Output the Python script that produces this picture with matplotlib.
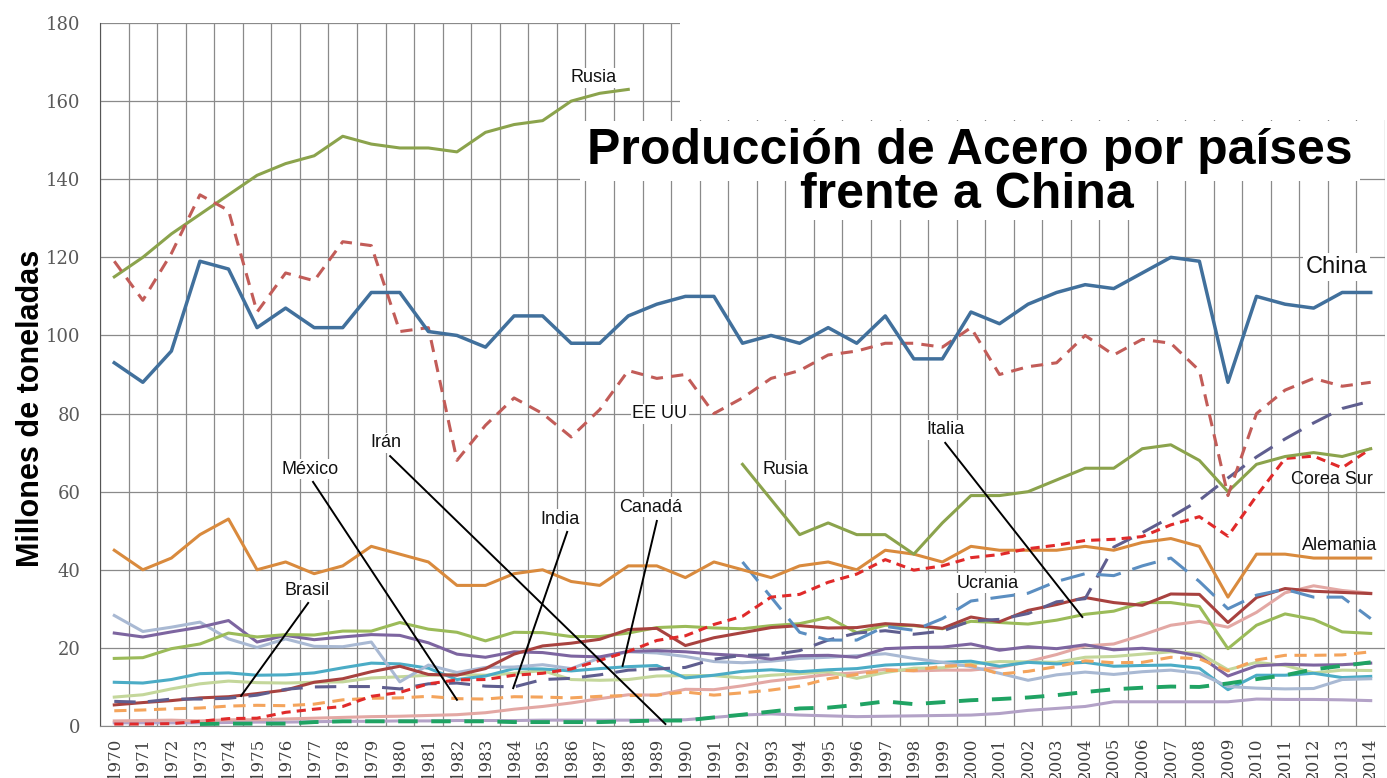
import matplotlib.pyplot as plt
import numpy as np
from matplotlib.patches import Rectangle

# datos (millones de toneladas), 1970-2014
years = list(range(1970, 2015))
nan = np.nan

china = [93, 88, 96, 119, 117, 102, 107, 102, 102, 111, 111, 101, 100, 97, 105, 105, 98, 98, 105, 108,
         110, 110, 98, 100, 98, 102, 98, 105, 94, 94, 106, 103, 108, 111, 113, 112, 116, 120, 119, 88,
         110, 108, 107, 111, 111]
ee_uu = [119, 109, 121, 136, 132, 106, 116, 114, 124, 123, 101, 102, 68, 77, 84, 80, 74, 81, 91, 89,
         90, 80, 84, 89, 91, 95, 96, 98, 98, 97, 102, 90, 92, 93, 100, 95, 99, 98, 91, 59,
         80, 86, 89, 87, 88]
rusia = [115, 120, 126, 131, 136, 141, 144, 146, 151, 149, 148, 148, 147, 152, 154, 155, 160, 162, 163, nan,
         nan, nan, 67, 58, 49, 52, 49, 49, 44, 52, 59, 59, 60, 63, 66, 66, 71, 72, 68, 60,
         67, 69, 70, 69, 71]
ucrania = [nan] * 22 + [42, 33, 24, 22, 22, 25.5, 24.5, 27.5, 32, 33, 34, 37, 39, 38.5, 41, 43, 37, 30,
                        33.5, 35, 33, 33, 27.5]
india = [6.3, 6.1, 6.9, 6.9, 7.1, 7.9, 9.4, 10, 10.1, 10.1, 9.5, 10.8, 11, 10.2, 10, 11.9, 12.2, 13.1, 14.3, 14.6,
         15, 17.1, 18.1, 18.2, 19.3, 22, 23.8, 24.4, 23.5, 24.3, 26.9, 27.3, 28.8, 31.8, 32.6, 45.8, 49.5, 53.5, 57.8, 63.5,
         68.9, 73.5, 77.6, 81.3, 83.2]
corea_sur = [0.5, 0.5, 0.6, 1.2, 1.9, 2, 3.5, 4.3, 5, 7.6, 8.6, 10.8, 11.8, 11.9, 13, 13.5, 14.6, 16.8, 19.1, 21.9,
             23.1, 26, 28.1, 33, 33.7, 36.8, 38.9, 42.6, 39.9, 41, 43.1, 43.9, 45.4, 46.3, 47.5, 47.8, 48.5, 51.5, 53.6, 48.6,
             58.9, 68.5, 69.1, 66.1, 71]
alemania = [45, 40, 43, 49, 53, 40, 42, 39, 41, 46, 44, 42, 36, 36, 39, 40, 37, 36, 41, 41,
            38, 42, 40, 38, 41, 42, 40, 45, 44, 42, 46, 45, 45, 45, 46, 45, 47, 48, 46, 33,
            44, 44, 43, 43, 43]
italia = [17.3, 17.5, 19.8, 21, 23.8, 22.8, 23.4, 23.3, 24.3, 24.3, 26.5, 24.8, 24, 21.8, 24, 23.9, 22.9, 22.9, 23.8, 25.2,
          25.5, 25.1, 24.9, 25.7, 26.2, 27.8, 23.9, 25.8, 25.7, 24.9, 26.8, 26.5, 26.1, 27.1, 28.6, 29.4, 31.6, 31.6, 30.6, 19.8,
          25.8, 28.7, 27.3, 24.1, 23.7]
brasil = [5.4, 6, 6.5, 7.2, 7.5, 8.3, 9.2, 11.2, 12.1, 13.9, 15.3, 13.2, 13, 14.7, 18.4, 20.5, 21.2, 22.2, 24.7, 25,
          20.6, 22.6, 23.9, 25.2, 25.7, 25.1, 25.2, 26.2, 25.8, 25, 27.9, 26.7, 29.6, 31.1, 32.9, 31.6, 30.9, 33.8, 33.7, 26.5,
          32.9, 35.2, 34.5, 34.2, 33.9]
francia = [23.8, 22.8, 24.1, 25.3, 27, 21.5, 23.2, 22.1, 22.8, 23.4, 23.2, 21.3, 18.4, 17.6, 19, 18.8, 17.9, 17.7, 19.1, 19.3,
           19, 18.4, 18, 17.1, 18, 18.1, 17.6, 19.8, 20.1, 20.2, 21, 19.4, 20.3, 19.8, 20.8, 19.5, 19.9, 19.3, 17.9, 12.8,
           15.4, 15.8, 15.6, 15.7, 16.1]
reino_unido = [28.3, 24.2, 25.3, 26.6, 22.3, 20.1, 22.3, 20.4, 20.3, 21.5, 11.3, 15.6, 13.7, 15, 15.1, 15.7, 14.7, 17.4, 19, 18.7,
               17.8, 16.5, 16.2, 16.6, 17.3, 17.6, 18, 18.5, 17.3, 16.3, 15.2, 13.5, 11.7, 13.1, 13.8, 13.2, 13.9, 14.3, 13.5, 10.1,
               9.7, 9.5, 9.6, 11.9, 12.1]
canada = [11.2, 11, 11.9, 13.4, 13.6, 13, 13.1, 13.6, 14.9, 16.1, 15.9, 14.8, 11.9, 12.8, 14.7, 14.6, 14.1, 14.7, 15.2, 15.5,
          12.3, 13, 14, 14.4, 13.9, 14.4, 14.7, 15.6, 15.9, 16.3, 16.6, 15.3, 16.3, 15.9, 16.3, 15.3, 15.5, 15.6, 14.8, 9.3,
          13, 13, 13.5, 12.4, 12.7]
espana = [7.4, 8, 9.5, 10.8, 11.5, 11.1, 11, 11.2, 11.3, 12.3, 12.6, 13, 13.2, 13, 13.5, 14.2, 11.9, 11.7, 11.9, 12.8,
          12.9, 12.9, 12.3, 13, 13.4, 13.9, 12.2, 13.7, 14.8, 14.9, 15.9, 16.5, 16.4, 16.3, 17.6, 17.8, 18.4, 19, 18.6, 14.4,
          16.3, 15.5, 13.6, 14.3, 14.2]
turquia = [1.3, 1.4, 1.5, 1.3, 1.6, 1.6, 1.8, 2, 2.2, 2.4, 2.5, 2.7, 2.9, 3.4, 4.3, 5, 5.9, 7, 8, 7.9,
           9.4, 9.3, 10.3, 11.5, 12.3, 13.2, 13.6, 14.5, 14.1, 14.3, 14.3, 15, 16.5, 18.3, 20.5, 21, 23.3, 25.8, 26.8, 25.3,
           29.1, 34.1, 35.9, 34.7, 34]
mexico = [3.9, 4.1, 4.4, 4.6, 5.1, 5.3, 5.2, 5.6, 6.7, 7.1, 7.2, 7.6, 7, 6.9, 7.5, 7.4, 7.2, 7.6, 7.8, 7.9,
          8.7, 7.9, 8.5, 9.2, 10.2, 12.1, 13.2, 14.2, 14.2, 15.3, 15.6, 13.3, 14, 15.2, 16.7, 16.2, 16.3, 17.6, 17.2, 14.1,
          16.9, 18.1, 18.1, 18.2, 19]
iran = [nan, nan, nan, 0.5, 0.6, 0.6, 0.6, 1.0, 1.2, 1.2, 1.2, 1.2, 1.2, 1.2, 1.0, 1.0, 1.0, 1.0, 1.2, 1.4,
        1.4, 2.2, 2.9, 3.7, 4.5, 4.7, 5.4, 6.3, 5.6, 6.1, 6.6, 6.9, 7.3, 7.9, 8.7, 9.4, 9.8, 10.1, 10, 10.9,
        12, 13, 14.5, 15.4, 16.3]
otro = [0.8, 0.8, 0.8, 0.8, 0.9, 1.0, 1.0, 1.1, 1.2, 1.2, 1.3, 1.3, 1.4, 1.4, 1.4, 1.5, 1.5, 1.5, 1.5, 1.5,
        1.6, 2.2, 2.8, 3.1, 2.8, 2.6, 2.4, 2.5, 2.6, 2.7, 2.8, 3.2, 4.0, 4.5, 5.0, 6.2, 6.2, 6.2, 6.2, 6.2,
        6.9, 6.8, 6.8, 6.7, 6.5]

x = np.arange(len(years))

fig = plt.figure(figsize=(13.87, 7.78), dpi=100)
ax = fig.add_axes([100 / 1387, 1 - 726 / 778, 1285 / 1387, 703 / 778])

# series sin etiqueta
ax.plot(x, otro, color='#B3A2C7', lw=2.2)
ax.plot(x, turquia, color='#E3A8A4', lw=2.2)
ax.plot(x, espana, color='#C4D79B', lw=2.2)
ax.plot(x, canada, color='#4BACC6', lw=2.2)
ax.plot(x, reino_unido, color='#A9B9D3', lw=2.2)
ax.plot(x, francia, color='#7D65A0', lw=2.2)
ax.plot(x, italia, color='#9BBB59', lw=2.2)
ax.plot(x, brasil, color='#A8423F', lw=2.2)
ax.plot(x, iran, color='#1FA363', lw=2.8, dashes=(5, 3.5))
ax.plot(x, mexico, color='#F4A45C', lw=2.2, dashes=(4, 2.5))
ax.plot(x, india, color='#5F5E8F', lw=2.2, dashes=(7, 4))
ax.plot(x, ucrania, color='#5B8EC1', lw=2.2, dashes=(8, 4))
ax.plot(x, alemania, color='#D98A3D', lw=2.2)
ax.plot(x, corea_sur, color='#E02A2A', lw=2.2, dashes=(3, 2))
ax.plot(x, rusia, color='#8BA34C', lw=2.2)
ax.plot(x, ee_uu, color='#C25C58', lw=2.2, dashes=(4, 2.7))
ax.plot(x, china, color='#41709C', lw=2.5)

ax.set_xlim(-0.5, len(years) - 0.5)
ax.set_ylim(0, 180)
ax.set_xticks(x)
ax.set_xticklabels(years, rotation=90, fontsize=12, family='DejaVu Serif', color='#404040')
ax.set_xticks(np.arange(-0.5, len(years), 1), minor=True)
ax.set_yticks(range(0, 181, 20))
ax.set_yticklabels(range(0, 181, 20), fontsize=13, family='DejaVu Serif', color='#595959')
ax.tick_params(which='both', length=0)
ax.tick_params(axis='x', pad=8)
ax.tick_params(axis='y', pad=14)
ax.grid(which='minor', axis='x', color='#8a8a8a', lw=0.9)
ax.grid(which='major', axis='y', color='#8a8a8a', lw=0.9)
ax.set_axisbelow(True)
for s in ['top', 'right']:
    ax.spines[s].set_visible(False)
ax.spines['left'].set_color('#555555')
ax.spines['bottom'].set_color('#8a8a8a')

# titulo del eje y (texto estrecho, como en el original)
fig.text(31 / 1387, 1 - 408 / 778, 'Millones de toneladas', rotation=90, ha='center', va='center',
         fontsize=22, weight='bold', family=['Liberation Sans Narrow', 'Liberation Sans'])

# zona blanca del titulo
fig.patches.append(Rectangle((680 / 1387, 1 - 120 / 778), 1, 120 / 778, transform=fig.transFigure,
                             facecolor='white', edgecolor='none', zorder=3))
tfont = dict(family='Liberation Sans', weight='bold', fontsize=36, ha='center', va='center', zorder=4)
fig.text(970 / 1387, 1 - 151 / 778, 'Producción de Acero por países', **tfont,
         bbox=dict(facecolor='white', edgecolor='none', pad=5))
fig.text(967 / 1387, 1 - 195 / 778, 'frente a China', **tfont,
         bbox=dict(facecolor='white', edgecolor='none', pad=1))

# etiquetas
lab = dict(family='Liberation Sans', fontsize=13, color='#111111', ha='center', va='center',
           bbox=dict(facecolor='white', edgecolor='none', pad=1))
ax.text(16.8, 166, 'Rusia', **lab)
ax.text(19.1, 80, 'EE UU', **lab)
ax.text(23.5, 65.6, 'Rusia', **lab)
ax.text(29.1, 75.8, 'Italia', **lab)
ax.text(30.6, 36.6, 'Ucrania', **lab)
ax.text(9.5, 72.5, 'Irán', **lab)
ax.text(6.85, 65.8, 'México', **lab)
ax.text(15.6, 53, 'India', **lab)
ax.text(18.8, 56, 'Canadá', **lab)
ax.text(6.75, 34.8, 'Brasil', **lab)
ax.text(42.65, 63.2, 'Corea Sur', family='Liberation Sans', fontsize=13, color='#111111',
        ha='center', va='center', zorder=6)
ax.text(42.9, 46.2, 'Alemania', family='Liberation Sans', fontsize=13, color='#111111',
        ha='center', va='center', zorder=6)
ax.text(42.8, 117.5, 'China', family='Liberation Sans', fontsize=17, color='#111111', ha='center', va='center',
        bbox=dict(facecolor='white', edgecolor='none', pad=2))

# lineas guia
guias = [((6.96, 62.5), (12.0, 6.7)), ((9.66, 69.1), (19.3, 0.5)), ((15.86, 49.7), (13.97, 9.7)),
         ((19.0, 52.5), (17.8, 15.4)), ((6.79, 31.5), (4.44, 7.7)), ((29.1, 72.5), (33.9, 27.9))]
for a, b in guias:
    ax.plot([a[0], b[0]], [a[1], b[1]], color='black', lw=1.4, zorder=5)

fig.savefig('out.png', dpi=100)
